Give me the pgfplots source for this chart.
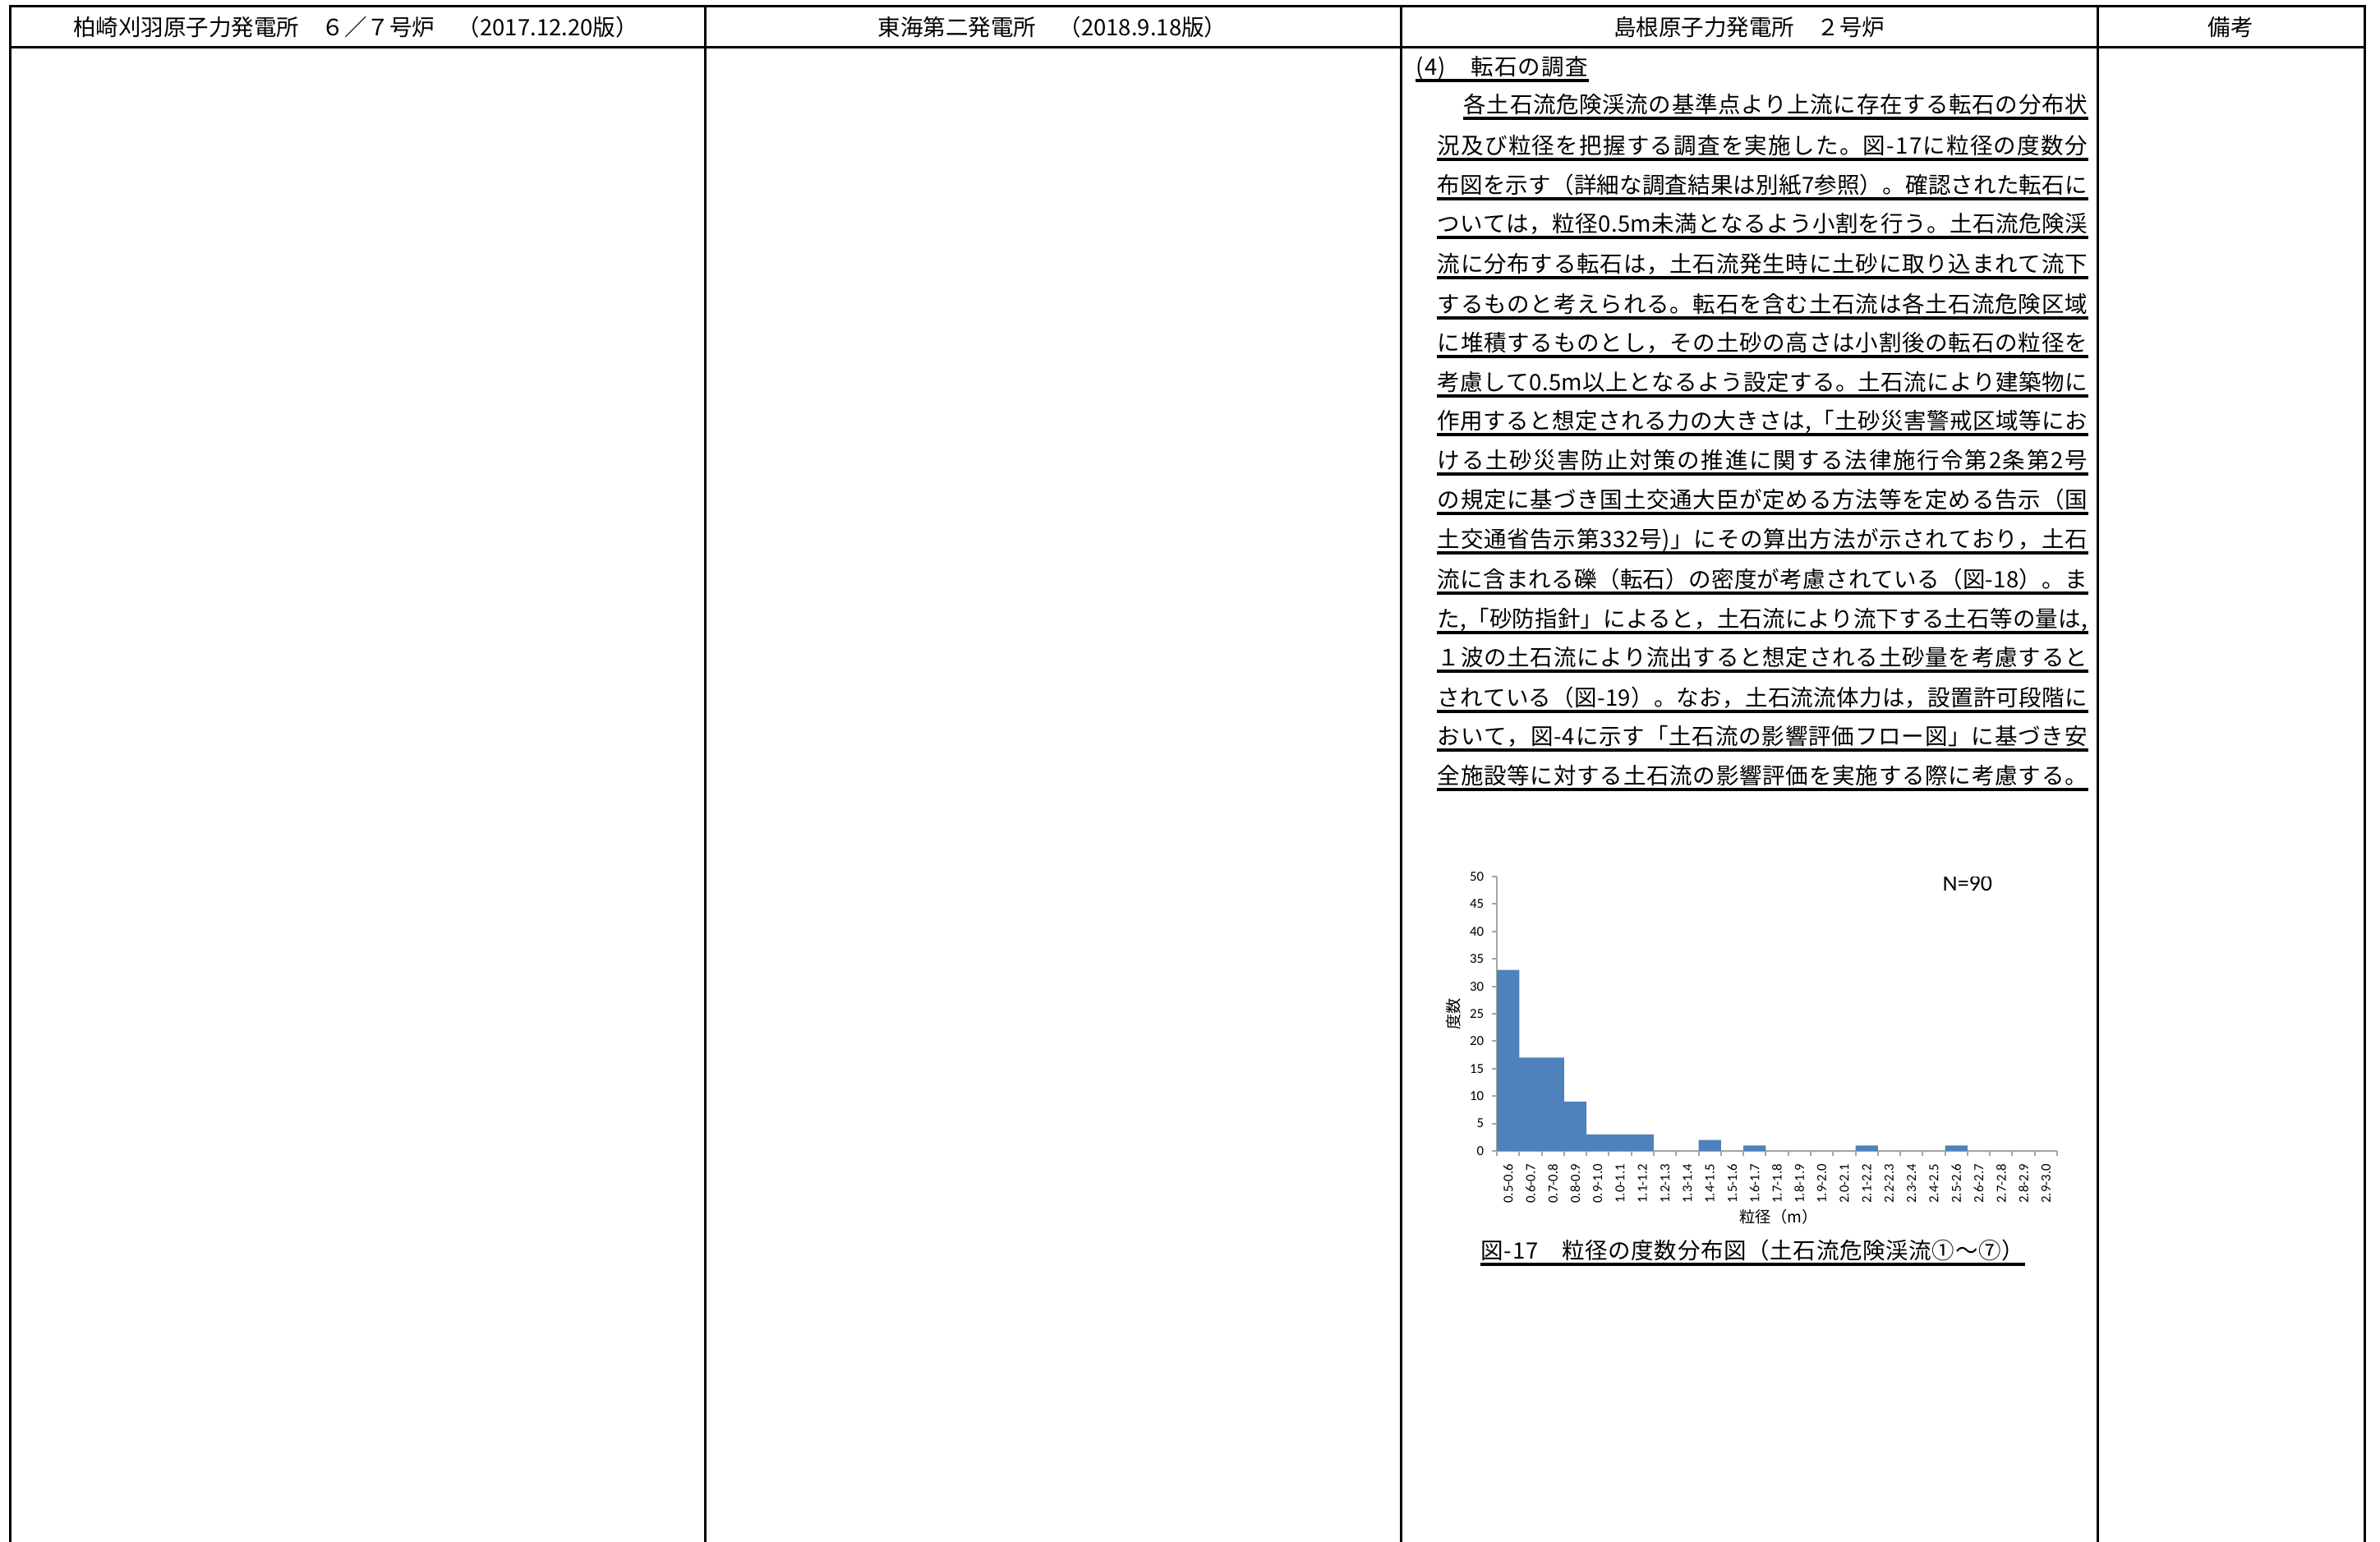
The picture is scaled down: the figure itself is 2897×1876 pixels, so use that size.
\documentclass[border=0pt]{standalone}
\usepackage{fontspec}
\usepackage{pgfplots}
\pgfplotsset{compat=1.18}
\setmainfont{Noto Sans CJK JP}
\newfontfamily\carlito{Carlito}

\definecolor{barblue}{HTML}{4F81BD}
\definecolor{axgray}{HTML}{A6A6A6}

% spread characters: glue between every character
\def\spr#1{\ifx#1\relax\else#1\hskip 0pt plus 1fil\expandafter\spr\fi}
% one underlined body line: x, baseline y (px), box width, text
\newcommand{\jl}[4]{%
  \node[anchor=base west, inner sep=0pt] (jl) at (#1,#2) {\hbox to #3{\spr#4\relax\unskip}};
  \fill ([yshift=-1.2pt]jl.base west) rectangle ([yshift=-2.2pt]jl.base east);
}

\begin{document}
\fontsize{6.875pt}{8pt}\selectfont
\begin{tikzpicture}
\begin{scope}[x=0.25pt, y=-0.25pt]
\useasboundingbox (0,0) rectangle (2897,1876);

% table frame
\begin{scope}[line width=0.75pt]
\draw (12,1880) -- (12,7) -- (2878,7) -- (2878,1880);
\draw (12,57) -- (2878,57);
\draw (858,7) -- (858,1880);
\draw (1705,7) -- (1705,1880);
\draw (2553,7) -- (2553,1880);
\end{scope}

% header row
\node[anchor=base, inner sep=0pt] at (433,43) {柏崎刈羽原子力発電所　６／７号炉　（2017.12.20版）};
\node[anchor=base, inner sep=0pt] at (1281,43) {東海第二発電所　（2018.9.18版）};
\node[anchor=base, inner sep=0pt] at (2129,43) {島根原子力発電所　２号炉};
\node[anchor=base, inner sep=0pt] at (2715,43) {備考};

% body text, column 3
\jl{1723}{91}{52.25pt}{(4)　転石の調査}
\jl{1781}{137}{189.75pt}{各土石流危険渓流の基準点より上流に存在する転石の分布状}
\jl{1749}{187}{197.75pt}{況及び粒径を把握する調査を実施した。図-17に粒径の度数分}
\jl{1749}{235}{197.75pt}{布図を示す（詳細な調査結果は別紙7参照）。確認された転石に}
\jl{1749}{282}{197.75pt}{ついては，粒径0.5m未満となるよう小割を行う。土石流危険渓}
\jl{1749}{331}{197.75pt}{流に分布する転石は，土石流発生時に土砂に取り込まれて流下}
\jl{1749}{380}{197.75pt}{するものと考えられる。転石を含む土石流は各土石流危険区域}
\jl{1749}{427}{197.75pt}{に堆積するものとし，その土砂の高さは小割後の転石の粒径を}
\jl{1749}{475}{197.75pt}{考慮して0.5m以上となるよう設定する。土石流により建築物に}
\jl{1749}{522}{197.75pt}{作用すると想定される力の大きさは,「土砂災害警戒区域等にお}
\jl{1749}{570}{197.75pt}{ける土砂災害防止対策の推進に関する法律施行令第2条第2号}
\jl{1749}{618}{197.75pt}{の規定に基づき国土交通大臣が定める方法等を定める告示（国}
\jl{1749}{666}{197.75pt}{土交通省告示第332号)」にその算出方法が示されており，土石}
\jl{1749}{715}{197.75pt}{流に含まれる礫（転石）の密度が考慮されている（図-18）。ま}
\jl{1749}{763}{197.75pt}{た,「砂防指針」によると，土石流により流下する土石等の量は,}
\jl{1749}{810}{197.75pt}{１波の土石流により流出すると想定される土砂量を考慮すると}
\jl{1749}{859}{197.75pt}{されている（図-19）。なお，土石流流体力は，設置許可段階に}
\jl{1749}{906}{197.75pt}{おいて，図-4に示す「土石流の影響評価フロー図」に基づき安}
\jl{1749}{954}{197.75pt}{全施設等に対する土石流の影響評価を実施する際に考慮する。}

% caption
\jl{1802}{1532}{165.25pt}{図-17　粒径の度数分布図（土石流危険渓流①～⑦）}
\end{scope}

% histogram
\begin{axis}[
  at={(455.5pt,-350.25pt)}, anchor=south west,
  width=170.5pt, height=83.5pt, scale only axis,
  xmin=-0.5, xmax=24.5, ymin=0, ymax=50,
  axis lines=left,
  axis line style={axgray, -, line width=0.5pt},
  ybar, bar width=1,
  xtick={-0.5,0.5,...,24.5},
  x tick label as interval,
  xticklabels={0.5-0.6,0.6-0.7,0.7-0.8,0.8-0.9,0.9-1.0,1.0-1.1,1.1-1.2,1.2-1.3,1.3-1.4,1.4-1.5,1.5-1.6,1.6-1.7,1.7-1.8,1.8-1.9,1.9-2.0,2.0-2.1,2.1-2.2,2.2-2.3,2.3-2.4,2.4-2.5,2.5-2.6,2.6-2.7,2.7-2.8,2.8-2.9,2.9-3.0},
  ytick={0,5,...,50},
  tick align=outside,
  major tick length=1.5pt,
  tick style={axgray, line width=0.5pt},
  /pgf/number format/assume math mode=true,
  ticklabel style={font=\carlito\fontsize{4.2pt}{4.5pt}\selectfont},
  xticklabel style={rotate=90, anchor=east},
  every axis y label/.style={at={(axis description cs:-0.077,0.5)}, rotate=90, anchor=center, font=\fontsize{4.8pt}{5pt}\selectfont},
  every axis x label/.style={at={(axis description cs:0.503,-0.2395)}, anchor=center, font=\fontsize{4.8pt}{5pt}\selectfont},
  ylabel={度数},
  xlabel={粒径（m）},
]
\addplot[fill=barblue, draw=none] coordinates {
  (0,33) (1,17) (2,17) (3,9) (4,3) (5,3) (6,3) (7,0) (8,0) (9,2)
  (10,0) (11,1) (12,0) (13,0) (14,0) (15,0) (16,1) (17,0) (18,0) (19,0)
  (20,1) (21,0) (22,0) (23,0) (24,0)};
\node[font=\carlito\fontsize{7pt}{8pt}\selectfont] at (axis description cs:0.84,0.976) {N=90};
\end{axis}
\end{tikzpicture}
\end{document}
